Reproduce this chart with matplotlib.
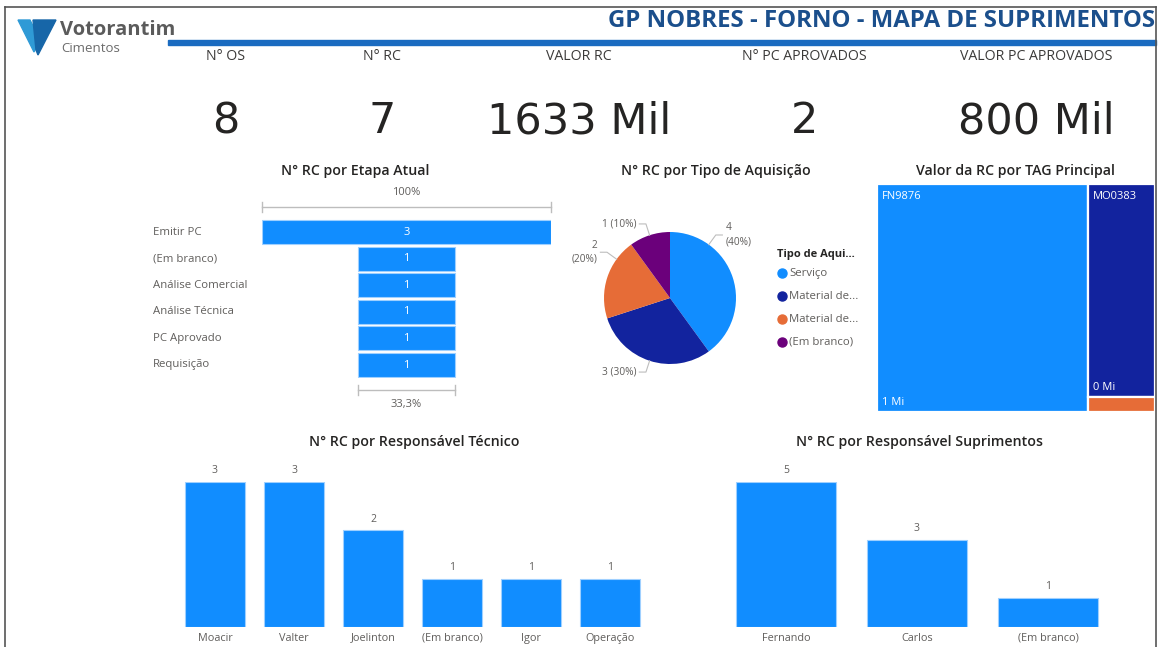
import matplotlib
matplotlib.use('Agg')
import matplotlib.pyplot as plt
import matplotlib.transforms as mtransforms
from matplotlib import font_manager
from matplotlib.patches import Rectangle, Polygon
from matplotlib.lines import Line2D
import numpy as np

# --- Data ---
kpi_labels = ['N° OS', 'N° RC', 'VALOR RC', 'N° PC APROVADOS', 'VALOR PC APROVADOS']
kpi_values = ['8', '7', '1633 Mil', '2', '800 Mil']

etapas = ['Emitir PC', '(Em branco)', 'Análise Comercial', 'Análise Técnica', 'PC Aprovado', 'Requisição']
etapa_rc = [3, 1, 1, 1, 1, 1]

tipos = ['Serviço', 'Material de...', 'Material de...', '(Em branco)']
tipo_rc = [4, 3, 2, 1]

tags = ['FN9876', 'MO0383', '(Em branco)']
tag_valor = [1237, 370, 26]   # mil

resp_tec = ['Moacir', 'Valter', 'Joelinton', '(Em branco)', 'Igor', 'Operação']
resp_tec_rc = [3, 3, 2, 1, 1, 1]

resp_sup = ['Fernando', 'Carlos', '(Em branco)']
resp_sup_rc = [5, 3, 1]

# --- Style ---
W, H = 1159, 647
BLUE = '#118DFF'
NAVY = '#12239E'
ORANGE = '#E66C37'
PURPLE = '#6B007B'
TITLE_C = '#252423'
LABEL_C = '#605E5C'
pie_colors = [BLUE, NAVY, ORANGE, PURPLE]
tag_colors = [BLUE, NAVY, ORANGE]

names = {f.name for f in font_manager.fontManager.ttflist}
num_font = 'Liberation Sans Narrow' if 'Liberation Sans Narrow' in names else 'DejaVu Sans'
num_size = 42 if num_font == 'Liberation Sans Narrow' else 31
lab_font = 'Open Sans' if 'Open Sans' in names else 'DejaVu Sans'
plt.rcParams['font.family'] = [lab_font, 'DejaVu Sans']

fig = plt.figure(figsize=(W / 100, H / 100), dpi=100)
fig.patch.set_facecolor('white')


def fx(x):
    return x / W


def fy(y):
    return 1 - y / H


def ax_px(x0, y0, x1, y1):
    return fig.add_axes([fx(x0), fy(y1), (x1 - x0) / W, (y1 - y0) / H])


def ftext(x, y, s, **kw):
    kw.setdefault('ha', 'center')
    kw.setdefault('va', 'center')
    return fig.text(fx(x), fy(y), s, **kw)


# --- Frame, logo, header ---
fig.add_artist(Line2D([fx(5), fx(5)], [fy(7), 0], color='#555555', lw=1.2))
fig.add_artist(Line2D([fx(5), fx(1156)], [fy(7), fy(7)], color='#555555', lw=1.2))
fig.add_artist(Line2D([fx(1156), fx(1156)], [fy(7), 0], color='#555555', lw=1.2))

fig.add_artist(Polygon([(fx(18), fy(20)), (fx(30), fy(20)), (fx(40), fy(40)), (fx(34), fy(52))],
                       closed=True, color='#2f9ad6', transform=fig.transFigure))
fig.add_artist(Polygon([(fx(33), fy(20)), (fx(56), fy(20)), (fx(38), fy(55)), (fx(36), fy(50))],
                       closed=True, color='#1766a8', transform=fig.transFigure))
ftext(60, 30, 'Votorantim', ha='left', fontsize=14.5, fontweight='bold', color='#5b5b5b')
ftext(61, 49, 'Cimentos', ha='left', fontsize=9.5, color='#6b6b6b')

ftext(1155, 21, 'GP NOBRES - FORNO - MAPA DE SUPRIMENTOS', ha='right', fontsize=17.3,
      fontweight='bold', color='#1B4F8C')
fig.add_artist(Rectangle((fx(168), fy(45)), fx(1156) - fx(168), 5 / H, color='#1A6BC0',
                         transform=fig.transFigure))

# --- KPI cards ---
kpi_x = [226, 382, 579, 804, 1036]
for x, lab, val in zip(kpi_x, kpi_labels, kpi_values):
    ftext(x, 57, lab, fontsize=10.2, color='#3b3a39')
    ftext(x, 121, val, fontsize=num_size, color='#252423', family=num_font)

TSIZE = 10.2
TW = 'semibold'

# --- Funnel: N° RC por Etapa Atual ---
ftext(355, 171, 'N° RC por Etapa Atual', fontsize=TSIZE, fontweight=TW, color=TITLE_C)
row = 26.6
axf = ax_px(262, 232 - row / 2, 551, 232 + row * 5.5)
mx = max(etapa_rc)
y = np.arange(len(etapas))
axf.barh(y, etapa_rc, left=[-v / 2 for v in etapa_rc], height=0.9, color=BLUE,
         edgecolor='#9fd0ff', lw=0.8)
axf.set_xlim(-mx / 2, mx / 2)
axf.set_ylim(len(etapas) - 0.5, -0.5)
axf.axis('off')
blend = mtransforms.blended_transform_factory(fig.transFigure, axf.transData)
for i, (name, v) in enumerate(zip(etapas, etapa_rc)):
    axf.text(0, i, str(v), ha='center', va='center', color='white', fontsize=8)
    axf.text(fx(153), i, name, transform=blend, ha='left', va='center', color=LABEL_C, fontsize=8.2)
gray = '#bdbdbd'
top_y, bot_y = -0.94, len(etapas) - 0.06
axf.plot([-etapa_rc[0] / 2, etapa_rc[0] / 2], [top_y, top_y], color=gray, lw=1, clip_on=False)
for xe in (-etapa_rc[0] / 2, etapa_rc[0] / 2):
    axf.plot([xe, xe], [top_y - 0.18, top_y + 0.18], color=gray, lw=1, clip_on=False)
axf.plot([-etapa_rc[-1] / 2, etapa_rc[-1] / 2], [bot_y, bot_y], color=gray, lw=1, clip_on=False)
for xe in (-etapa_rc[-1] / 2, etapa_rc[-1] / 2):
    axf.plot([xe, xe], [bot_y - 0.18, bot_y + 0.18], color=gray, lw=1, clip_on=False)
axf.text(0, -1.5, '100%', ha='center', va='center', color=LABEL_C, fontsize=8)
pct = f"{etapa_rc[-1] / etapa_rc[0] * 100:.1f}%".replace('.', ',')
axf.text(0, bot_y + 0.56, pct, ha='center', va='center', color=LABEL_C, fontsize=8)

# --- Pie: N° RC por Tipo de Aquisição ---
ftext(716, 171, 'N° RC por Tipo de Aquisição', fontsize=TSIZE, fontweight=TW, color=TITLE_C)
cx, cy, r = 670, 298, 66
axp = ax_px(cx - r, cy - r, cx + r, cy + r)
axp.pie(tipo_rc, colors=pie_colors, startangle=90, counterclock=False, radius=1,
        wedgeprops=dict(edgecolor='none'))
axp.set_xlim(-1, 1)
axp.set_ylim(-1, 1)
axp.set_aspect('equal')
total = sum(tipo_rc)
label_ang = [54, 252, 144, 108]
two_line = [True, False, True, False]
for v, a, tl in zip(tipo_rc, label_ang, two_line):
    t = np.deg2rad(a)
    p = (np.cos(t), np.sin(t))
    e = (1.18 * np.cos(t), 1.18 * np.sin(t))
    side = 1 if p[0] > 0 else -1
    end = (e[0] + side * 0.1, e[1])
    axp.plot([p[0], e[0], end[0]], [p[1], e[1], end[1]], color='#bdbdbd', lw=0.8, clip_on=False)
    sep = '\n' if tl else ' '
    axp.text(end[0] + side * 0.05, end[1], f"{v}{sep}({v / total * 100:.0f}%)",
             ha='left' if side > 0 else 'right', va='center', color=LABEL_C, fontsize=7.3,
             linespacing=1.4, clip_on=False)

ftext(777, 254, 'Tipo de Aqui...', ha='left', fontsize=8, fontweight='bold', color=TITLE_C)
for i, (name, c) in enumerate(zip(tipos, pie_colors)):
    yy = 273 + i * 23
    fig.add_artist(Line2D([fx(782)], [fy(yy)], marker='o', markersize=6.5, color=c,
                          transform=fig.transFigure))
    ftext(789.5, yy, name, ha='left', fontsize=8.2, color=LABEL_C)

# --- Treemap: Valor da RC por TAG Principal ---
ftext(1016, 171, 'Valor da RC por TAG Principal', fontsize=TSIZE, fontweight=TW, color=TITLE_C)
axt = ax_px(877, 184, 1155, 412)
axt.set_xlim(0, 1)
axt.set_ylim(1, 0)
axt.axis('off')
tot = sum(tag_valor)
w0 = tag_valor[0] / tot
rects = [(0, 0, w0, 1)]
rest = sum(tag_valor[1:])
y0 = 0
for v in tag_valor[1:]:
    h = v / rest
    rects.append((w0, y0, 1 - w0, h))
    y0 += h
for (x, yv, w, h), c, name, v in zip(rects, tag_colors, tags, tag_valor):
    axt.add_patch(Rectangle((x, yv), w, h, facecolor=c, edgecolor='white', lw=1.6))
    if h > 0.2:
        axt.text(x + 0.018, yv + 0.055, name, color='white', fontsize=8, va='center', ha='left')
        axt.text(x + 0.018, yv + h - 0.04, f"{v / 1000:.0f} Mi", color='white', fontsize=8,
                 va='center', ha='left')


def bar_panel(ax, cats, vals, width):
    xs = np.arange(len(cats))
    ax.bar(xs, vals, width=width, color=BLUE, edgecolor='#9fd0ff', lw=0.8)
    for xi, v in zip(xs, vals):
        ax.annotate(str(v), (xi, v), xytext=(0, 4), textcoords='offset points', ha='center',
                    va='bottom', fontsize=7.5, color=LABEL_C)
    ax.set_xlim(-0.5, len(cats) - 0.5)
    ax.set_ylim(0, max(vals))
    ax.set_xticks(xs)
    ax.set_xticklabels(cats, fontsize=7.8, color=LABEL_C)
    ax.tick_params(axis='x', length=0, pad=4)
    ax.set_yticks([])
    for s in ax.spines.values():
        s.set_visible(False)


# --- Bars: N° RC por Responsável Técnico ---
ftext(414, 442, 'N° RC por Responsável Técnico', fontsize=TSIZE, fontweight=TW, color=TITLE_C)
axb1 = ax_px(175.5, 482, 649.5, 627)
bar_panel(axb1, resp_tec, resp_tec_rc, 0.77)

# --- Bars: N° RC por Responsável Suprimentos ---
ftext(920, 442, 'N° RC por Responsável Suprimentos', fontsize=TSIZE, fontweight=TW, color=TITLE_C)
axb2 = ax_px(720.5, 482, 1113.5, 627)
bar_panel(axb2, resp_sup, resp_sup_rc, 0.756)

fig.savefig('out.png', dpi=100)
